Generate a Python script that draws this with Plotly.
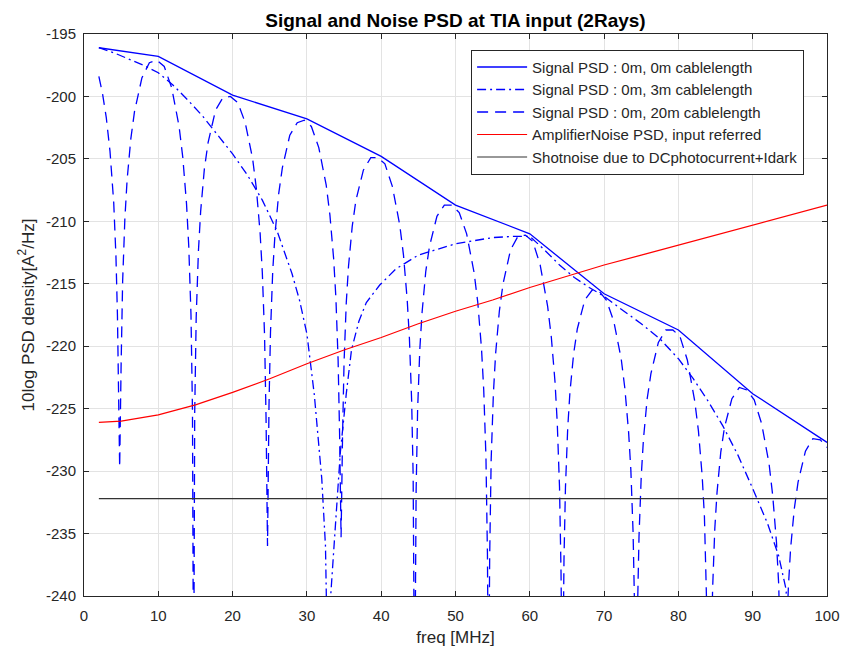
import plotly.graph_objects as go

# ---------------- data ----------------
freq_0m = [2, 10, 20, 30, 40, 50, 60, 70, 80, 90, 100]
psd_0m = [-196.1, -196.8, -199.9, -201.8, -204.8, -208.7, -211.0, -215.8, -218.7, -223.8, -227.7]

freq_3m = [2, 4, 6, 8, 10, 12, 14, 16, 18, 20, 22, 24, 26, 28, 29, 30, 31, 32, 32.5, 32.9,
           33.2, 33.8, 34.5, 35.3, 36.0, 37.0, 38.0, 39.8, 42, 45, 50, 55, 58, 60, 62, 64, 66,
           68, 70, 72, 75, 77.5, 80, 82, 84, 86, 88, 90, 92, 93.5, 94.5, 95.0]
psd_3m = [-196.1, -196.5, -197.0, -197.5, -198.1, -199.1, -200.3, -201.6, -203.1, -204.6,
          -206.3, -208.3, -210.8, -214.2, -216.3, -219.0, -223.9, -230.6, -236.0, -250.0,
          -240.0, -234.5, -228.5, -223.8, -220.3, -218.0, -216.5, -215.1, -213.8, -212.7,
          -211.8, -211.3, -211.2, -211.2, -212.3, -213.5, -214.5, -215.3, -216.0, -216.9,
          -218.2, -219.4, -221.0, -222.6, -224.4, -226.4, -228.7, -231.4, -234.2, -236.8,
          -239.5, -250.0]

freq_20m = [
    2, 2.5, 3, 3.5, 4, 4.3, 4.5, 4.7, 4.8,
    5.0, 5.2, 5.5, 5.8, 6.3, 6.8, 7.8, 8.8, 9.8, 10.8, 11.8, 12.8, 13.3, 13.8, 14.1, 14.4, 14.6, 14.75,
    14.9, 15.1, 15.4, 15.7, 16.2, 16.7, 17.7, 18.7, 19.7, 20.7, 21.7, 22.7, 23.2, 23.7, 24.0, 24.3, 24.5, 24.7,
    24.9, 25.1, 25.4, 25.7, 26.2, 26.7, 27.7, 28.7, 29.65, 30.6, 31.6, 32.6, 33.1, 33.6, 33.9, 34.2, 34.4, 34.6,
    34.8, 35.0, 35.3, 35.6, 36.1, 36.6, 37.6, 38.6, 39.55, 40.5, 41.5, 42.5, 43.0, 43.5, 43.8, 44.1, 44.3, 44.5,
    44.7, 44.9, 45.2, 45.5, 46.0, 46.5, 47.5, 48.5, 49.5, 50.5, 51.5, 52.5, 53.0, 53.5, 53.8, 54.1, 54.3, 54.45,
    54.6, 54.8, 55.1, 55.4, 55.9, 56.4, 57.4, 58.4, 59.4, 60.4, 61.4, 62.4, 62.9, 63.4, 63.7, 64.0, 64.2, 64.4,
    64.6, 64.8, 65.1, 65.4, 65.9, 66.4, 67.4, 68.4, 69.35, 70.3, 71.3, 72.3, 72.8, 73.3, 73.6, 73.9, 74.1, 74.3,
    74.5, 74.7, 75.0, 75.3, 75.8, 76.3, 77.3, 78.3, 79.25, 80.2, 81.2, 82.2, 82.7, 83.2, 83.5, 83.8, 84.0, 84.2,
    84.4, 84.6, 84.9, 85.2, 85.7, 86.2, 87.2, 88.2, 89.2, 90.2, 91.2, 92.2, 92.7, 93.2, 93.5, 93.8, 94.0, 94.15,
    94.3, 94.5, 94.8, 95.1, 95.6, 96.1, 97.1, 98.1, 99.1, 100]
psd_20m = [
    -198.4, -199.8, -201.7, -204.4, -208.5, -212.8, -217.5, -226.0, -229.7,
    -221.3, -214.8, -209.8, -206.7, -203.4, -201.2, -198.5, -197.3, -197.1, -197.6, -199.3, -202.4, -204.9, -208.6, -212.0, -217.5, -225.2, -250.0,
    -225.3, -217.7, -212.4, -209.2, -205.8, -203.7, -201.1, -200.1, -200.0, -200.5, -202.1, -205.0, -207.4, -210.9, -214.1, -219.1, -225.7, -236.0,
    -224.7, -218.9, -214.0, -211.1, -207.8, -205.7, -203.1, -202.1, -201.9, -202.4, -204.1, -207.1, -209.5, -213.0, -216.1, -221.1, -227.0, -235.3,
    -227.1, -221.3, -216.5, -213.6, -210.4, -208.3, -205.9, -204.9, -204.9, -205.4, -207.2, -210.3, -212.7, -216.3, -219.4, -224.4, -230.4, -250.0,
    -231.6, -225.1, -220.2, -217.3, -214.0, -212.0, -209.6, -208.7, -208.7, -209.3, -211.0, -214.1, -216.5, -220.2, -223.5, -228.9, -236.7, -250.0,
    -236.8, -229.1, -223.8, -220.6, -217.2, -215.0, -212.3, -211.2, -211.1, -211.6, -213.5, -216.8, -219.3, -222.9, -226.2, -231.3, -238.0, -250.0,
    -237.1, -231.3, -226.6, -223.7, -220.6, -218.6, -216.3, -215.5, -215.6, -216.3, -218.0, -221.0, -223.4, -226.9, -229.9, -234.9, -240.9, -250.0,
    -241.0, -235.2, -230.4, -227.4, -224.2, -222.2, -219.7, -218.7, -218.7, -219.2, -221.1, -224.4, -226.8, -230.4, -233.6, -238.6, -244.6, -250.0,
    -245.9, -239.5, -234.6, -231.7, -228.5, -226.5, -224.2, -223.3, -223.5, -224.3, -226.2, -229.4, -232.0, -235.7, -239.1, -244.5, -252.0, -255.0,
    -251.0, -244.4, -239.3, -236.2, -233.0, -230.9, -228.4, -227.4, -227.5, -228.1]

freq_noise = [2, 5, 10, 15, 20, 25, 30, 35, 40, 45, 50, 55, 60, 65, 70, 75, 80, 85, 90, 95, 100]
psd_amp = [-226.1, -226.0, -225.5, -224.7, -223.7, -222.6, -221.4, -220.3, -219.3, -218.2,
           -217.2, -216.3, -215.3, -214.4, -213.5, -212.7, -211.9, -211.1, -210.3, -209.5, -208.7]

freq_shot = [2, 100]
psd_shot = [-232.2, -232.2]

x_ticks = [0, 10, 20, 30, 40, 50, 60, 70, 80, 90, 100]
x_ticklabels = ["0", "10", "20", "30", "40", "50", "60", "70", "80", "90", "100"]
y_ticks = [-240, -235, -230, -225, -220, -215, -210, -205, -200, -195]
y_ticklabels = ["-240", "-235", "-230", "-225", "-220", "-215", "-210", "-205", "-200", "-195"]

names = ["Signal PSD : 0m, 0m cablelength",
         "Signal PSD : 0m, 3m cablelength",
         "Signal PSD : 0m, 20m cablelength",
         "AmplifierNoise PSD, input referred",
         "Shotnoise due to DCphotocurrent+Idark"]

# ---------------- figure ----------------
FONT = "Liberation Sans, Arial, sans-serif"
BLUE = "#0000ff"

fig = go.Figure()
fig.add_trace(go.Scatter(x=freq_0m, y=psd_0m, mode="lines", name=names[0],
                         line=dict(color=BLUE, width=1.3)))
fig.add_trace(go.Scatter(x=freq_3m, y=psd_3m, mode="lines", name=names[1],
                         line=dict(color=BLUE, width=1.3, dash="9px,4px,2px,4px")))
fig.add_trace(go.Scatter(x=freq_20m, y=psd_20m, mode="lines", name=names[2],
                         line=dict(color=BLUE, width=1.3, dash="11px,7px")))
fig.add_trace(go.Scatter(x=freq_noise, y=psd_amp, mode="lines", name=names[3],
                         line=dict(color="#ff0000", width=1.2)))
fig.add_trace(go.Scatter(x=freq_shot, y=psd_shot, mode="lines", name=names[4],
                         line=dict(color="#333333", width=1.2)))

axis_common = dict(
    showline=True, linecolor="#262626", linewidth=1, mirror="allticks",
    ticks="inside", ticklen=5, tickcolor="#262626",
    showgrid=True, gridcolor="#e3e3e3", gridwidth=1, zeroline=False,
    tickfont=dict(family=FONT, size=15, color="#262626"),
    automargin=False,
)

fig.update_layout(
    width=843, height=655,
    margin=dict(l=84, r=16, t=34, b=59),
    paper_bgcolor="white", plot_bgcolor="white",
    font=dict(family=FONT, color="#262626"),
    title=dict(text="<b>Signal and Noise PSD at TIA input (2Rays)</b>",
               x=0.5403, xanchor="center", y=0.969, yanchor="middle",
               font=dict(family=FONT, size=19, color="#000000")),
    xaxis=dict(range=[0, 100], tickvals=x_ticks, ticktext=x_ticklabels,
               ticklabelstandoff=6,
               title=dict(text="freq [MHz]", font=dict(family=FONT, size=17, color="#262626"), standoff=8),
               **axis_common),
    yaxis=dict(range=[-240, -195], tickvals=y_ticks, ticktext=y_ticklabels,
               ticklabelstandoff=4,
               title=dict(text="10log PSD density[A<sup>2</sup>/Hz]",
                          font=dict(family=FONT, size=17, color="#262626"), standoff=7),
               **axis_common),
    legend=dict(x=0.521, y=0.972, xanchor="left", yanchor="top",
                bgcolor="white", bordercolor="#262626", borderwidth=1,
                font=dict(family=FONT, size=15, color="#262626"),
                tracegroupgap=0, itemwidth=50),
    showlegend=True,
)

fig.write_html("out.html")
